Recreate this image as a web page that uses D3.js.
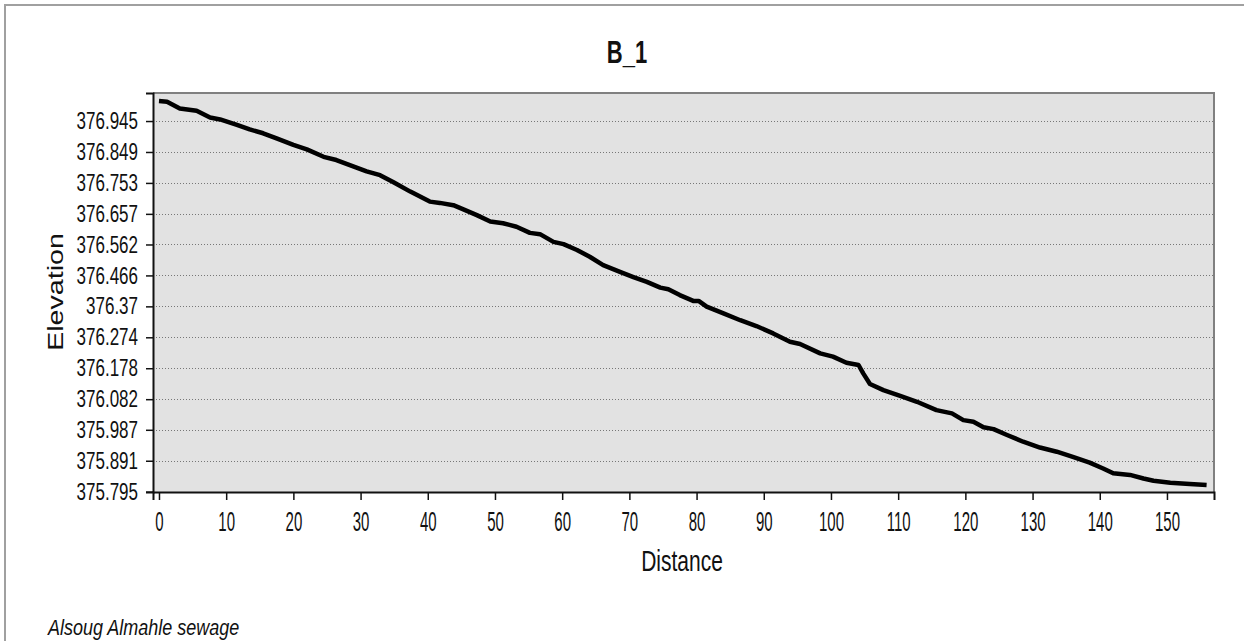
<!DOCTYPE html>
<html>
<head>
<meta charset="utf-8">
<script src="https://cdn.jsdelivr.net/npm/d3@7"></script>
<style>
  body { margin: 0; background: #fff; }
  text { font-family: "Liberation Sans", Arial, sans-serif; fill: #111; }
</style>
</head>
<body>
<svg class="profile"></svg>
<script>
var distance = [0, 1.2, 3.1, 5.6, 7.6, 9.1, 11.6, 13.5, 15.5, 17.5,
  20.0, 22.0, 24.5, 26.4, 28.4, 30.9, 32.9, 34.9, 37.4, 40.3,
  41.8, 43.8, 45.3, 47.3, 49.3, 51.2, 53.2, 55.2, 56.7, 58.7,
  60.2, 62.2, 64.1, 66.1, 68.6, 70.6, 72.6, 74.6, 75.8, 77.5,
  79.5, 80.3, 81.5, 84.0, 86.5, 88.9, 91.4, 93.9, 95.4, 98.4,
  100.3, 102.3, 104.1, 104.8, 105.8, 107.8, 110.3, 112.8, 115.7, 118.0,
  119.7, 121.2, 122.7, 124.2, 126.2, 128.6, 131.1, 133.6, 136.1, 138.5,
  140.5, 142.0, 144.5, 146.5, 148.0, 150.5, 153.4, 155.9];

var elevation = [377.007, 377.005, 376.984, 376.977, 376.956, 376.950, 376.933, 376.919, 376.907, 376.891,
  376.871, 376.857, 376.834, 376.824, 376.808, 376.789, 376.777, 376.755, 376.726, 376.695,
  376.691, 376.684, 376.671, 376.653, 376.633, 376.628, 376.617, 376.598, 376.594, 376.570,
  376.563, 376.545, 376.524, 376.498, 376.477, 376.461, 376.446, 376.428, 376.423, 376.405,
  376.387, 376.387, 376.369, 376.348, 376.327, 376.309, 376.286, 376.260, 376.253, 376.224,
  376.214, 376.195, 376.188, 376.162, 376.129, 376.110, 376.092, 376.074, 376.048, 376.038,
  376.017, 376.012, 375.995, 375.989, 375.971, 375.950, 375.932, 375.919, 375.902, 375.885,
  375.867, 375.852, 375.847, 375.836, 375.829, 375.823, 375.819, 375.816];

var yTicks = ["375.795", "375.891", "375.987", "376.082", "376.178", "376.274", "376.37",
  "376.466", "376.562", "376.657", "376.753", "376.849", "376.945"];
var xTicks = [0, 10, 20, 30, 40, 50, 60, 70, 80, 90, 100, 110, 120, 130, 140, 150];

var title = "B_1";
var xTitle = "Distance";
var yTitle = "Elevation";
var note = "Alsoug Almahle sewage";

var W = 1244, H = 641;
var pLeft = 153, pRight = 1214, pTop = 93, pBottom = 492;

var svg = d3.select(".profile")
    .attr("width", W)
    .attr("height", H);

// outer frame
svg.append("path")
  .attr("d", "M5," + H + "V5H" + W)
  .attr("fill", "none")
  .attr("stroke", "#a0a0a0")
  .attr("stroke-width", 2);

var x = d3.scaleLinear().domain([-0.89, 157.0]).range([pLeft, pRight]);
var y = d3.scaleLinear().domain([375.794, 377.032]).range([pBottom, pTop]);

svg.append("rect")
  .attr("x", pLeft)
  .attr("y", pTop)
  .attr("width", pRight - pLeft)
  .attr("height", pBottom - pTop)
  .attr("fill", "#e2e2e2");

// dotted grid
svg.append("g").selectAll("line").data(yTicks)
  .enter().append("line")
    .attr("x1", pLeft)
    .attr("x2", pRight)
    .attr("y1", function(d) { return Math.round(y(+d)) + 0.5 })
    .attr("y2", function(d) { return Math.round(y(+d)) + 0.5 })
    .attr("stroke", "#777")
    .attr("stroke-dasharray", "1,2");

// top / right border
svg.append("path")
  .attr("d", "M" + pLeft + "," + pTop + "H" + pRight + "V" + pBottom)
  .attr("fill", "none")
  .attr("stroke", "#808080")
  .attr("stroke-width", 2);

var line = d3.line()
  .x(function(d) { return x(d[0]) })
  .y(function(d) { return y(d[1]) });

svg.append("path")
  .datum(d3.zip(distance, elevation))
  .attr("d", line)
  .attr("fill", "none")
  .attr("stroke", "#000")
  .attr("stroke-width", 4.5)
  .attr("stroke-linejoin", "round");

var yAxis = svg.append("g")
    .attr("transform", "translate(" + pLeft + ",0)")
    .call(d3.axisLeft(y).tickValues(yTicks.map(Number))
      .tickFormat(function(d, i) { return yTicks[i] })
      .tickSize(7).tickPadding(8));

yAxis.selectAll("text")
    .attr("font-size", 17)
    .attr("transform", "scale(1,1.4)");

var xAxis = svg.append("g")
    .attr("transform", "translate(0," + pBottom + ")")
    .call(d3.axisBottom(x).tickValues(xTicks).tickSize(8).tickPadding(0));

xAxis.selectAll("text")
    .attr("font-size", 15)
    .attr("y", 21.7)
    .attr("dy", 0)
    .attr("transform", "scale(1,1.8)");

svg.selectAll(".domain").attr("stroke", "#111").attr("stroke-width", 2);
svg.selectAll(".tick line").attr("stroke", "#111").attr("stroke-width", 1.5);

svg.append("text")
  .attr("transform", "translate(627,63) scale(1,1.45)")
  .attr("text-anchor", "middle")
  .attr("font-size", 22)
  .attr("font-weight", "bold")
  .text(title);

svg.append("text")
  .attr("transform", "translate(682,571) scale(1,1.4)")
  .attr("text-anchor", "middle")
  .attr("font-size", 21)
  .text(xTitle);

svg.append("text")
  .attr("transform", "translate(63,292) rotate(-90) scale(1.3,1)")
  .attr("text-anchor", "middle")
  .attr("font-size", 22)
  .text(yTitle);

svg.append("text")
  .attr("transform", "translate(48,635) scale(1,1.25)")
  .attr("font-size", 18)
  .attr("font-style", "italic")
  .text(note);
</script>
</body>
</html>
